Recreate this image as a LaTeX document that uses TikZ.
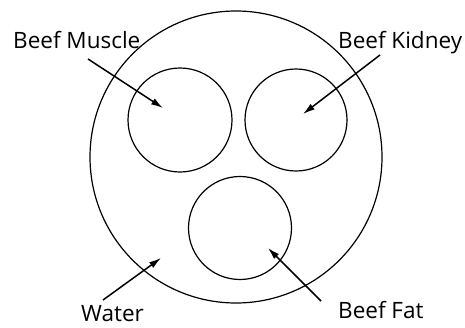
\documentclass[tikz,border=0pt]{standalone}
\usepackage{fontspec}
\setmainfont{Open Sans}
\usetikzlibrary{arrows.meta}

\begin{document}
\begin{tikzpicture}[x=1pt, y=-1pt, main/.style = {draw, circle, line width=1.2pt, inner sep=0pt},
        tag/.style = {anchor=base west, inner sep=0pt, font=\fontsize{22.5}{26}\selectfont}]
            \useasboundingbox (0,0) rectangle (465,327);

            \node[main, minimum size=292pt] (Water) at (236,157) {};
            \node[main, minimum size=104pt] (Muscle) at (180,120) {};
            \node[main, minimum size=102pt] (Kidney) at (296,120) {};
            \node[main, minimum size=103pt] (Fat) at (240,228) {};

            \node[tag] (m) at (13,48) {Beef Muscle};
            \node[tag] (k) at (338,48) {Beef Kidney};
            \node[tag] (w) at (81,321) {Water};
            \node[tag] (f) at (338,318) {Beef Fat};

            \coordinate (m1) at (88,59);   \coordinate (m2) at (163,108);
            \coordinate (k1) at (380,55);  \coordinate (k2) at (303,114);
            \coordinate (w1) at (103,300); \coordinate (w2) at (161,258);
            \coordinate (f1) at (321,301); \coordinate (f2) at (268,248);

            \path[-{Latex[length=12pt, width=7pt]}, line width=1.5pt] (m1) edge (m2);
            \path[-{Latex[length=12pt, width=7pt]}, line width=1.5pt] (k1) edge (k2);
            \path[-{Latex[length=12pt, width=7pt]}, line width=1.5pt] (w1) edge (w2);
            \path[-{Latex[length=12pt, width=7pt]}, line width=1.5pt] (f1) edge (f2);
        \end{tikzpicture}
\end{document}
